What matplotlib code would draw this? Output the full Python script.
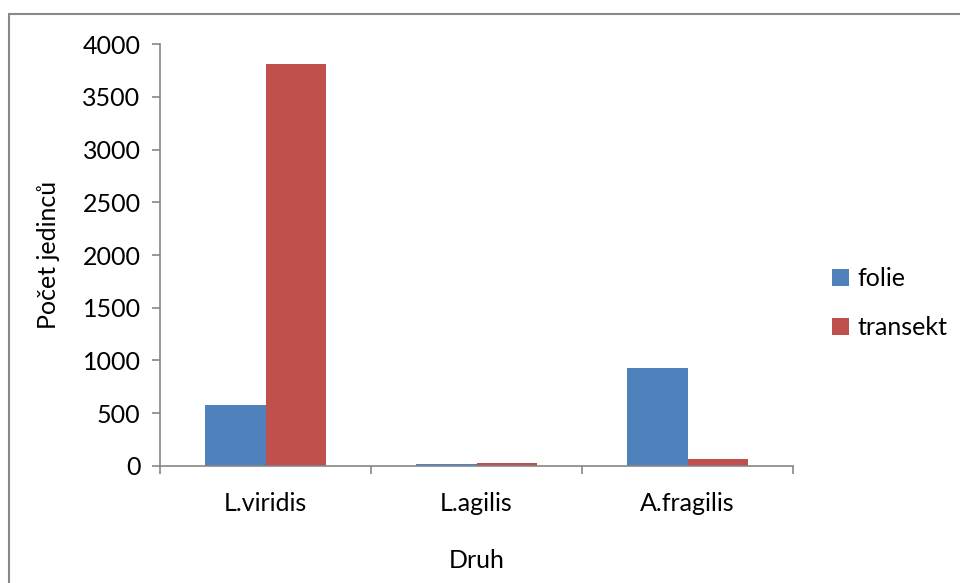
import matplotlib
matplotlib.use("Agg")
import matplotlib.pyplot as plt
from matplotlib.patches import Rectangle
import numpy as np

categories = ["L.viridis", "L.agilis", "A.fragilis"]
folie = [580, 15, 930]
transekt = [3810, 25, 68]
series_names = ["folie", "transekt"]
colors = ["#4F81BD", "#C0504D"]
yticks = [0, 500, 1000, 1500, 2000, 2500, 3000, 3500, 4000]

FS = 18
plt.rcParams["font.family"] = ["Lato", "DejaVu Sans"]
fig = plt.figure(figsize=(9.6, 5.83), dpi=100)
ax = fig.add_axes([0.1667, 0.2007, 0.6594, 0.7238])

x = np.arange(len(categories))
w = 1 / 3.5
ax.bar(x - w / 2, folie, w, color=colors[0], label=series_names[0])
ax.bar(x + w / 2, transekt, w, color=colors[1], label=series_names[1])

ax.set_xlim(-0.5, len(categories) - 0.5)
ax.set_ylim(0, 4000)
ax.set_yticks(yticks)
ax.set_yticklabels([str(v) for v in yticks])

# category boundaries carry the tick marks, labels sit at category centres
ax.set_xticks(np.arange(-0.5, len(categories), 1.0))
ax.set_xticklabels([])
ax.set_xticks(x, minor=True)
ax.set_xticklabels(categories, minor=True)
ax.tick_params(axis="x", which="minor", length=0, pad=19, labelsize=FS)
ax.tick_params(axis="x", which="major", length=6, width=1.2, color="#868686")
ax.tick_params(axis="y", length=6, width=1.2, color="#868686", labelsize=FS, pad=8)

for s in ["top", "right"]:
    ax.spines[s].set_visible(False)
for s in ["left", "bottom"]:
    ax.spines[s].set_color("#868686")
    ax.spines[s].set_linewidth(1.2)

ax.set_xlabel("Druh", fontsize=FS, labelpad=24)
ax.set_ylabel("Počet jedinců", fontsize=FS, labelpad=16)

ax.legend(loc="center left", bbox_to_anchor=(0.867, 0.480), bbox_transform=fig.transFigure,
          frameon=False, fontsize=FS, handlelength=0.65, handleheight=0.65,
          handletextpad=0.35, labelspacing=1.05, borderpad=0, borderaxespad=0)

fig.patches.append(Rectangle((9 / 960, -0.1), 1.2, 1 - 14 / 583 + 0.1,
                             transform=fig.transFigure, fill=False,
                             edgecolor="#898989", linewidth=1.5))

fig.savefig("out.png", dpi=100)
